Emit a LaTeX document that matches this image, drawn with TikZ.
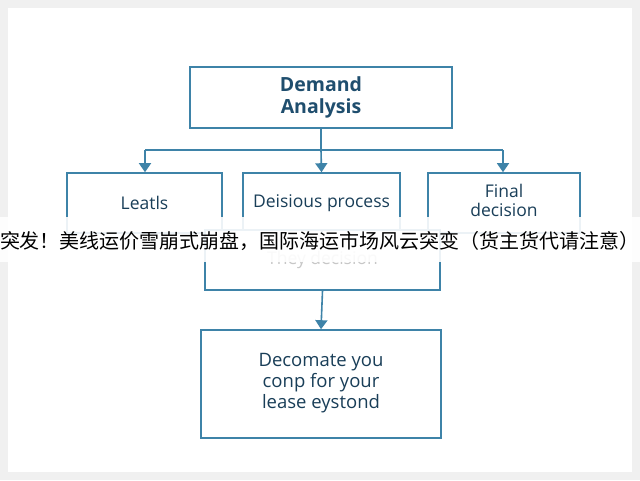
\documentclass[tikz,border=0pt]{standalone}
\usepackage{fontspec}
\setmainfont{Open Sans}
\newfontfamily\cjk{Noto Sans CJK SC}
\usetikzlibrary{arrows.meta}
\definecolor{edge}{HTML}{3E83A8}
\definecolor{ttl}{HTML}{1F4E6E}
\begin{document}
\begin{tikzpicture}[x=1pt,y=-1pt,
  box/.style={draw=edge,line width=1.6pt,fill=white,align=center,inner sep=0pt,font=\fontsize{17.5}{20}\selectfont,text=ttl!80!black},
  faded/.style={box,draw=edge,text=black!22},
  arr/.style={draw=edge,line width=1.6pt,-{Triangle[length=9pt,width=12pt]}},
  ln/.style={draw=edge,line width=1.6pt}]
\fill[black!6] (0,0) rectangle (640,480);
\fill[white] (8,8) rectangle (632,472);
\node[box,minimum width=262pt,minimum height=61pt,font=\bfseries\fontsize{19.5}{22}\selectfont,text=ttl] (da) at (321,97.5) {Demand\\Analysis};
\node[box,minimum width=155pt,minimum height=60pt] (le) at (144.5,203) {\raisebox{-4pt}{Leatls}};
\node[box,minimum width=157pt,minimum height=60pt] (dp) at (321.5,203) {\raisebox{-4pt}{Deisious process}};
\node[box,minimum width=152pt,minimum height=60pt,font=\fontsize{17.5}{17}\selectfont] (fd) at (504,203) {\raisebox{5pt}{Final}\\\raisebox{5pt}{decision}};
\node[faded,minimum width=235pt,minimum height=60pt] (td) at (322.5,260) {\raisebox{-14pt}{They decision}};
\node[box,minimum width=240pt,minimum height=108pt,font=\fontsize{18.5}{21}\selectfont] (dy) at (321,384) {\raisebox{6pt}{Decomate you}\\\raisebox{6pt}{conp for your}\\\raisebox{6pt}{lease eystond}};
\coordinate (j) at (321,150);
\coordinate (jl) at (145,150);
\coordinate (jr) at (503,150);
\draw[ln] (da.south) -- (j);
\draw[ln] (jl) -- (jr);
\draw[arr] (j) -- (dp.north);
\draw[arr] (jl) -- (le.north -| jl);
\draw[arr] (jr) -- (fd.north -| jr);
\draw[ln] (dp.south) -- (td.north);
\draw[arr] (td.south) -- (dy.north);
\fill[white,opacity=0.9] (0,217) rectangle (640,262);
\node[font=\cjk\fontsize{20}{22}\selectfont,text=black,inner sep=0pt] (ban) at (320,241) {突发！美线运价雪崩式崩盘，国际海运市场风云突变（货主货代请注意）};
\end{tikzpicture}
\end{document}
